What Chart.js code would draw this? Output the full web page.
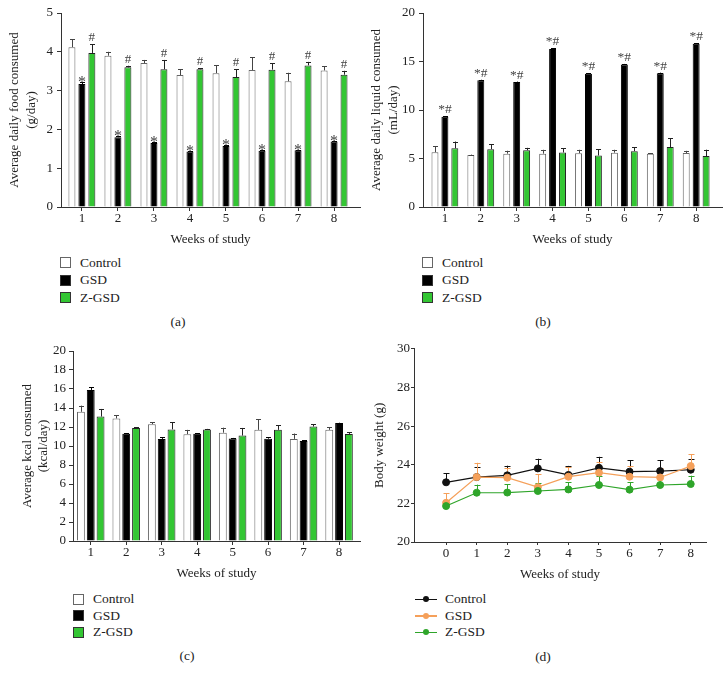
<!DOCTYPE html>
<html>
<head>
<meta charset="utf-8">
<script src="https://cdn.jsdelivr.net/npm/chart.js@4.4.0/dist/chart.umd.min.js"></script>
<style>
  body { margin: 0; background: #fff; width: 724px; height: 684px; position: relative; overflow: hidden;
         font-family: "Liberation Serif", "Times New Roman", serif; color: #222; }
  canvas { position: absolute; }
  .leg { position: absolute; font-size: 13.5px; }
  .leg div { display: flex; align-items: center; }
  .sq { display: inline-block; width: 9px; height: 9px; border: 1px solid #333; margin-right: 9px; }
  .ln { display: inline-block; position: relative; width: 22px; height: 1.5px; margin-right: 8px; }
  .ln::after { content: ''; position: absolute; left: 8px; top: -2.5px; width: 6px; height: 6px; border-radius: 50%; background: inherit; }
  .cap { position: absolute; width: 40px; text-align: center; font-size: 13.5px; }
</style>
</head>
<body>
<canvas id="food" width="362" height="251" style="left:0;top:0"></canvas>
<canvas id="liquid" width="362" height="251" style="left:362px;top:0"></canvas>
<canvas id="kcal" width="362" height="245" style="left:0;top:340px"></canvas>
<canvas id="weight" width="362" height="246" style="left:362px;top:340px"></canvas>

<div class="leg" style="left:60px;top:254px">
  <div style="height:17.5px"><i class="sq" style="background:#fff;border-color:#666"></i>Control</div>
  <div style="height:17.5px"><i class="sq" style="background:#000"></i>GSD</div>
  <div style="height:17.5px"><i class="sq" style="background:#33c633"></i>Z-GSD</div>
</div>
<div class="leg" style="left:422px;top:254px">
  <div style="height:17.5px"><i class="sq" style="background:#fff;border-color:#666"></i>Control</div>
  <div style="height:17.5px"><i class="sq" style="background:#000"></i>GSD</div>
  <div style="height:17.5px"><i class="sq" style="background:#33c633"></i>Z-GSD</div>
</div>
<div class="leg" style="left:73px;top:591px">
  <div style="height:16.5px"><i class="sq" style="background:#fff;border-color:#666"></i>Control</div>
  <div style="height:16.5px"><i class="sq" style="background:#000"></i>GSD</div>
  <div style="height:16.5px"><i class="sq" style="background:#33c633"></i>Z-GSD</div>
</div>
<div class="leg" style="left:415px;top:591px">
  <div style="height:16.5px"><i class="ln" style="background:#111"></i>Control</div>
  <div style="height:16.5px"><i class="ln" style="background:#f5a05a"></i>GSD</div>
  <div style="height:16.5px"><i class="ln" style="background:#2fa52a"></i>Z-GSD</div>
</div>

<div class="cap" style="left:158px;top:314px">(a)</div>
<div class="cap" style="left:523px;top:314px">(b)</div>
<div class="cap" style="left:167px;top:648px">(c)</div>
<div class="cap" style="left:523px;top:649px">(d)</div>

<script>
// weeks on the x axes
const weeks = ['1', '2', '3', '4', '5', '6', '7', '8'];
const bwWeeks = ['0', '1', '2', '3', '4', '5', '6', '7', '8'];

// (a) average daily food consumed (g/day), mean and upper SEM
const foodControl = [4.12, 3.90, 3.71, 3.40, 3.45, 3.53, 3.24, 3.52];
const foodControlErr = [0.20, 0.10, 0.08, 0.15, 0.20, 0.33, 0.22, 0.11];
const foodGSD = [3.17, 1.80, 1.65, 1.43, 1.57, 1.45, 1.46, 1.69];
const foodGSDErr = [0.05, 0.02, 0.03, 0.02, 0.02, 0.03, 0.02, 0.02];
const foodZ = [3.97, 3.60, 3.55, 3.55, 3.35, 3.54, 3.65, 3.41];
const foodZErr = [0.23, 0.04, 0.24, 0.02, 0.20, 0.17, 0.09, 0.10];
const foodGSDMarks = ['*', '*', '*', '*', '*', '*', '*', '*'];
const foodZMarks = ['#', '#', '#', '#', '#', '#', '#', '#'];

// (b) average daily liquid consumed (mL/day)
const liquidControl = [5.65, 5.35, 5.50, 5.50, 5.55, 5.60, 5.50, 5.57];
const liquidControlErr = [0.62, 0.05, 0.30, 0.40, 0.35, 0.30, 0.03, 0.22];
const liquidGSD = [9.30, 13.07, 12.88, 16.30, 13.73, 14.70, 13.80, 16.82];
const liquidGSDErr = [0.05, 0.05, 0.05, 0.05, 0.05, 0.05, 0.05, 0.05];
const liquidZ = [6.05, 5.96, 5.85, 5.62, 5.31, 5.76, 6.18, 5.25];
const liquidZErr = [0.70, 0.50, 0.25, 0.45, 0.66, 0.40, 0.90, 0.66];
const liquidGSDMarks = ['*#', '*#', '*#', '*#', '*#', '*#', '*#', '*#'];

// (c) average kcal consumed (kcal/day)
const kcalControl = [13.60, 12.90, 12.30, 11.25, 11.40, 11.70, 10.75, 11.70];
const kcalControlErr = [0.65, 0.35, 0.20, 0.45, 0.53, 1.10, 0.56, 0.30];
const kcalGSD = [15.90, 11.30, 10.75, 11.30, 10.80, 10.77, 10.53, 12.43];
const kcalGSDErr = [0.30, 0.04, 0.18, 0.05, 0.05, 0.15, 0.10, 0.03];
const kcalZ = [13.10, 11.90, 11.75, 11.75, 11.10, 11.70, 12.05, 11.27];
const kcalZErr = [0.80, 0.10, 0.77, 0.05, 0.80, 0.50, 0.25, 0.20];

// (d) body weight (g)
const bwControl = [23.09, 23.36, 23.45, 23.81, 23.47, 23.84, 23.64, 23.67, 23.74];
const bwControlErr = [0.48, 0.52, 0.50, 0.50, 0.47, 0.57, 0.58, 0.55, 0.55];
const bwGSD = [22.03, 23.36, 23.33, 22.84, 23.38, 23.59, 23.38, 23.34, 23.93];
const bwGSDErr = [0.50, 0.74, 0.50, 0.67, 0.50, 0.53, 0.53, 0.50, 0.62];
const bwZ = [21.86, 22.55, 22.56, 22.64, 22.72, 22.95, 22.71, 22.95, 23.00];
const bwZErr = [0.33, 0.42, 0.43, 0.40, 0.38, 0.46, 0.38, 0.50, 0.43];

Chart.defaults.font.family = '"Liberation Serif", "Times New Roman", serif';
Chart.defaults.font.size = 13;
Chart.defaults.color = '#222';
Chart.defaults.animation = false;

const GREEN = '#33c633';
const AXIS = '#333';

// upward error bars (and significance marks) drawn from the y scale
function drawErrors(chart) {
  const ctx = chart.ctx;
  const yScale = chart.scales.y;
  chart.data.datasets.forEach((ds, i) => {
    const meta = chart.getDatasetMeta(i);
    meta.data.forEach((el, j) => {
      const top = yScale.getPixelForValue(ds.data[j].y + ds.errors[j]);
      const x = Math.round(el.x) + 0.5;
      ctx.save();
      ctx.strokeStyle = ds.errorColor;
      ctx.lineWidth = 1;
      ctx.beginPath();
      ctx.moveTo(x, el.y);
      ctx.lineTo(x, top);
      ctx.moveTo(x - ds.capHalf, Math.round(top) + 0.5);
      ctx.lineTo(x + ds.capHalf, Math.round(top) + 0.5);
      ctx.stroke();
      if (ds.marks) {
        ctx.fillStyle = '#444';
        ctx.font = ds.markFont;
        ctx.textAlign = 'center';
        ctx.textBaseline = 'alphabetic';
        ctx.fillText(ds.marks[j], el.x, top + ds.markShift);
      }
      ctx.restore();
    });
  });
}

const errorBars = {
  id: 'errorBars',
  beforeDatasetsDraw(chart) { if (chart.config.type === 'line') drawErrors(chart); },
  afterDatasetsDraw(chart) { if (chart.config.type === 'bar') drawErrors(chart); }
};

const pts = (xs, ys) => xs.map((w, i) => ({ x: +w, y: ys[i] }));

function barChart(id, o) {
  return new Chart(document.getElementById(id), {
    type: 'bar',
    data: {
      datasets: [
        { label: 'Control', data: pts(weeks, o.control), errors: o.controlErr, backgroundColor: '#fff',
          borderColor: '#666', borderWidth: 1, errorColor: '#444', capHalf: 2.5 },
        { label: 'GSD', data: pts(weeks, o.gsd), errors: o.gsdErr, backgroundColor: '#000',
          borderColor: '#000', borderWidth: 1, errorColor: '#000', capHalf: 2.5,
          marks: o.gsdMarks, markShift: o.gsdShift, markFont: o.gsdFont },
        { label: 'Z-GSD', data: pts(weeks, o.z), errors: o.zErr, backgroundColor: GREEN,
          borderColor: '#222', borderWidth: 1, errorColor: '#222', capHalf: 2.5,
          marks: o.zMarks, markShift: -3, markFont: '13px "Liberation Serif", serif' }
      ]
    },
    plugins: [errorBars],
    options: {
      responsive: false,
      layout: { padding: { top: o.top, right: o.right, left: 0, bottom: 0 } },
      datasets: { bar: { categoryPercentage: 0.83, barPercentage: o.barPct, borderSkipped: 'start' } },
      plugins: { legend: { display: false }, tooltip: { enabled: false } },
      scales: {
        x: {
          type: 'linear', min: o.xMin, max: o.xMax, offset: false,
          afterBuildTicks: s => { s.ticks = weeks.map(w => ({ value: +w })); },
          afterFit: s => { s.height = o.xHeight; },
          grid: { drawOnChartArea: false, offset: false, tickLength: 4, color: AXIS },
          border: { color: AXIS },
          ticks: { padding: 0, autoSkip: false, maxRotation: 0, callback: v => String(v) },
          title: { display: true, text: 'Weeks of study', padding: { top: 4, bottom: 4 } }
        },
        y: {
          min: 0, max: o.yMax,
          afterFit: s => { s.width = o.yWidth; },
          grid: { drawOnChartArea: false, tickLength: 4, color: AXIS },
          border: { color: AXIS },
          ticks: { stepSize: o.step, padding: o.tickPad },
          title: { display: true, text: o.yTitle, padding: { top: o.titlePad, bottom: 0 },
                   font: { size: 13, lineHeight: o.titleLH } }
        }
      }
    }
  });
}

barChart('food', {
  control: foodControl, controlErr: foodControlErr, gsd: foodGSD, gsdErr: foodGSDErr,
  z: foodZ, zErr: foodZErr, gsdMarks: foodGSDMarks, gsdShift: 5, gsdFont: '16px "Liberation Serif", serif',
  zMarks: foodZMarks,
  top: 13, right: 2, xMin: 0.42, xMax: 8.72, xHeight: 44, yWidth: 61, yMax: 5, step: 1,
  tickPad: 4, barPct: 0.7, yTitle: ['Average daily food consumed', '(g/day)'], titlePad: 6.5, titleLH: 1.3
});

barChart('liquid', {
  control: liquidControl, controlErr: liquidControlErr, gsd: liquidGSD, gsdErr: liquidGSDErr,
  z: liquidZ, zErr: liquidZErr, gsdMarks: liquidGSDMarks, gsdShift: -3, gsdFont: '13.5px "Liberation Serif", serif',
  zMarks: null,
  top: 13, right: 2, xMin: 0.39, xMax: 8.72, xHeight: 44, yWidth: 61, yMax: 20, step: 5,
  tickPad: 4, barPct: 0.7, yTitle: ['Average daily liquid consumed', '(mL/day)'], titlePad: 6.5, titleLH: 1.3
});

barChart('kcal', {
  control: kcalControl, controlErr: kcalControlErr, gsd: kcalGSD, gsdErr: kcalGSDErr,
  z: kcalZ, zErr: kcalZErr, gsdMarks: null, gsdShift: 0, gsdFont: '', zMarks: null,
  top: 11, right: 2, xMin: 0.5, xMax: 8.59, xHeight: 44, yWidth: 73, yMax: 20, step: 2,
  tickPad: 3, barPct: 0.8, yTitle: ['Average kcal consumed', '(kcal/day)'], titlePad: 19, titleLH: 1.27
});

new Chart(document.getElementById('weight'), {
  type: 'line',
  data: {
    datasets: [
      { label: 'Control', data: pts(bwWeeks, bwControl), errors: bwControlErr, borderColor: '#111',
        backgroundColor: '#111', errorColor: '#111', capHalf: 3, order: 3 },
      { label: 'GSD', data: pts(bwWeeks, bwGSD), errors: bwGSDErr, borderColor: '#f5a05a',
        backgroundColor: '#f5a05a', errorColor: '#f5a05a', capHalf: 3, order: 2 },
      { label: 'Z-GSD', data: pts(bwWeeks, bwZ), errors: bwZErr, borderColor: '#2fa52a',
        backgroundColor: '#2fa52a', errorColor: '#2fa52a', capHalf: 3, order: 1 }
    ]
  },
  plugins: [errorBars],
  options: {
    responsive: false,
    layout: { padding: { top: 8, right: 18, left: 0, bottom: 0 } },
    elements: { line: { borderWidth: 1.2, tension: 0 }, point: { radius: 3.5, borderWidth: 1 } },
    plugins: { legend: { display: false }, tooltip: { enabled: false } },
    scales: {
      x: {
        type: 'linear', min: -1.05, max: 8.5,
        afterBuildTicks: s => { s.ticks = bwWeeks.map(w => ({ value: +w })); },
        afterFit: s => { s.height = 44; },
        grid: { drawOnChartArea: false, tickLength: 3, color: AXIS },
        border: { color: AXIS },
        ticks: { padding: 1, autoSkip: false, maxRotation: 0, callback: v => String(v) },
        title: { display: true, text: 'Weeks of study', padding: { top: 4, bottom: 4 } }
      },
      y: {
        min: 20, max: 30,
        afterFit: s => { s.width = 52; },
        grid: { drawOnChartArea: false, tickLength: 3, color: AXIS },
        border: { color: AXIS },
        ticks: { stepSize: 2, padding: 1 },
        title: { display: true, text: 'Body weight (g)', padding: { top: 10, bottom: 0 } }
      }
    }
  }
});
</script>
</body>
</html>
